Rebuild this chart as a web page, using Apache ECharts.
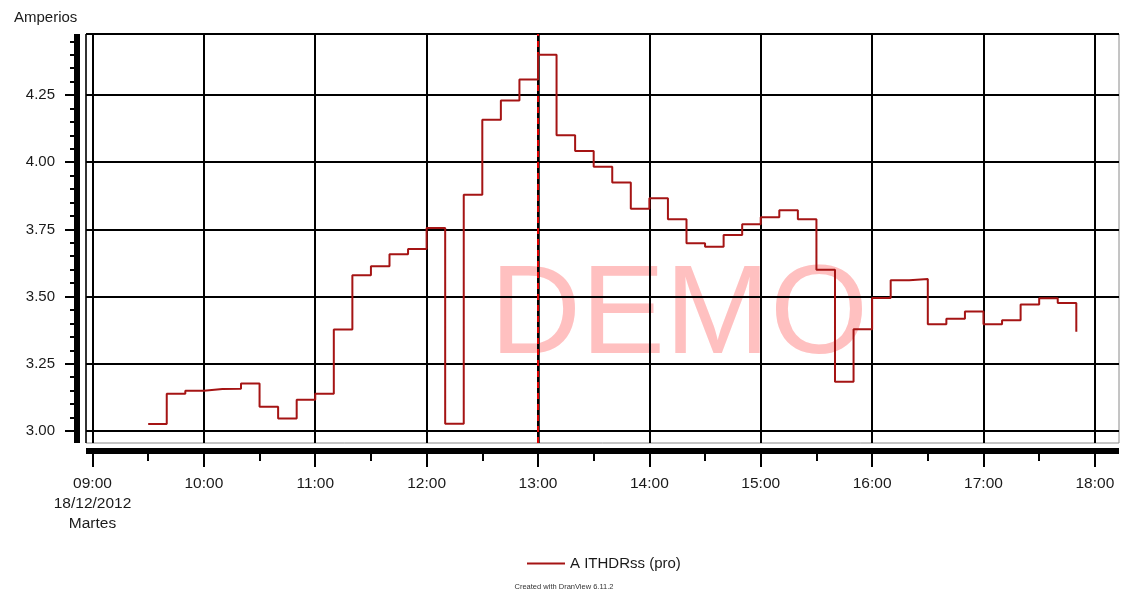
<!DOCTYPE html>
<html>
<head>
<meta charset="utf-8">
<title>A ITHDRss (pro)</title>
<script src="https://cdn.jsdelivr.net/npm/echarts@6/dist/echarts.min.js"></script>
<style>
  html, body { margin: 0; padding: 0; background: #ffffff; }
  #chart { width: 1128px; height: 593px; }
</style>
</head>
<body>
<div id="chart"></div>
<script>
// Sample times (10-minute steps) and measured current, in amperes
const times = [
  '09:30', '09:40', '09:50', '10:00', '10:10', '10:20', '10:30', '10:40', '10:50',
  '11:00', '11:10', '11:20', '11:30', '11:40', '11:50',
  '12:00', '12:10', '12:20', '12:30', '12:40', '12:50',
  '13:00', '13:10', '13:20', '13:30', '13:40', '13:50',
  '14:00', '14:10', '14:20', '14:30', '14:40', '14:50',
  '15:00', '15:10', '15:20', '15:30', '15:40', '15:50',
  '16:00', '16:10', '16:20', '16:30', '16:40', '16:50',
  '17:00', '17:10', '17:20', '17:30', '17:40', '17:50'
];
const amps = [
  3.026, 3.138, 3.149, 3.156, 3.157, 3.176, 3.090, 3.046, 3.116,
  3.138, 3.377, 3.579, 3.613, 3.657, 3.677,
  3.755, 3.027, 3.879, 4.158, 4.230, 4.308,
  4.400, 4.100, 4.042, 3.983, 3.924, 3.827,
  3.866, 3.788, 3.698, 3.685, 3.729, 3.769,
  3.795, 3.821, 3.788, 3.600, 3.183, 3.378,
  3.495, 3.561, 3.565, 3.397, 3.417, 3.444,
  3.397, 3.412, 3.470, 3.494, 3.476, 3.369
];

// Axis ticks
const hourTicks = ['09:00', '10:00', '11:00', '12:00', '13:00', '14:00', '15:00', '16:00', '17:00', '18:00'];
const halfHourTicks = ['09:30', '10:30', '11:30', '12:30', '13:30', '14:30', '15:30', '16:30', '17:30'];
const ampTicks = [3.00, 3.25, 3.50, 3.75, 4.00, 4.25];
const ampMinorTicks = [
  3.05, 3.10, 3.15, 3.20, 3.30, 3.35, 3.40, 3.45, 3.55, 3.60, 3.65, 3.70,
  3.80, 3.85, 3.90, 3.95, 4.05, 4.10, 4.15, 4.20, 4.30, 4.35, 4.40, 4.45
];
const cursorTime = '13:00';
const dateText = '18/12/2012';
const dayText = 'Martes';
const seriesName = 'A ITHDRss (pro)';

// Visible ranges
const timeMin = '08:56.5';
const timeMax = '18:13';
const ampMin = 2.955;
const ampMax = 4.477;

function toMinutes(t) {
  const [h, m] = t.split(':');
  return Number(h) * 60 + Number(m);
}
function fmtTime(v) {
  const h = Math.floor(v / 60);
  const m = Math.round(v - h * 60);
  return String(h).padStart(2, '0') + ':' + String(m).padStart(2, '0');
}

const FONT = 'Liberation Sans, Arial, sans-serif';
const INK = '#1a1a1a';
const xMin = toMinutes(timeMin);
const xMax = toMinutes(timeMax);
const firstHour = toMinutes(hourTicks[0]);

const chart = echarts.init(document.getElementById('chart'), null, { renderer: 'canvas' });

const option = {
  animation: false,
  backgroundColor: '#ffffff',
  title: [
    {
      text: 'Amperios', left: 9, top: 5,
      textStyle: { fontFamily: FONT, fontSize: 15, fontWeight: 'normal', color: INK }
    },
    {
      text: 'Created with DranView 6.11.2', left: 'center', top: 578,
      textStyle: { fontFamily: FONT, fontSize: 7.5, fontWeight: 'normal', color: '#333' }
    }
  ],
  legend: {
    left: 522, top: 551,
    itemWidth: 38, itemHeight: 14, itemGap: 10,
    icon: 'path://M0,0 L38,0 L38,2 L0,2 Z',
    textStyle: { fontFamily: FONT, fontSize: 15, color: INK },
    data: [seriesName]
  },
  grid: {
    left: 86, right: 9, top: 34, bottom: 150,
    show: true, borderColor: '#8a8a8a', borderWidth: 1,
    backgroundColor: 'transparent',
    outerBoundsMode: 'none'
  },
  graphic: [
    {
      type: 'text', z: -1, silent: true,
      x: 679, y: 318,
      style: {
        text: 'DEMO', fill: '#ffc0c0', fontFamily: FONT, fontSize: 126,
        textAlign: 'center', textVerticalAlign: 'middle'
      }
    }
  ],
  xAxis: [
    {
      // main time axis: hour ticks, labels and vertical grid
      type: 'value', min: xMin, max: xMax, position: 'bottom', offset: 8,
      axisLine: { show: true, onZero: false, lineStyle: { color: '#000', width: 6, cap: 'butt' } },
      axisTick: {
        show: true, customValues: hourTicks.map(toMinutes),
        length: 16, lineStyle: { color: '#000', width: 2 }
      },
      axisLabel: {
        customValues: hourTicks.map(toMinutes),
        margin: 23, fontFamily: FONT, fontSize: 15.5, color: INK, lineHeight: 20,
        formatter: v => (v === firstHour ? fmtTime(v) + '\n' + dateText + '\n' + dayText : fmtTime(v))
      },
      splitLine: { show: true, lineStyle: { color: '#000', width: 2 } }
    },
    {
      // half-hour ticks
      type: 'value', min: xMin, max: xMax, position: 'bottom', offset: 8,
      axisLine: { show: false },
      axisTick: {
        show: true, customValues: halfHourTicks.map(toMinutes),
        length: 10, lineStyle: { color: '#000', width: 2 }
      },
      axisLabel: { show: false },
      splitLine: { show: false }
    },
    {
      // top frame edge
      type: 'value', min: xMin, max: xMax, position: 'top', offset: 0,
      axisLine: { show: true, onZero: false, lineStyle: { color: '#000', width: 2, cap: 'butt' } },
      axisTick: { show: false }, axisLabel: { show: false }, splitLine: { show: false }
    }
  ],
  yAxis: [
    {
      // main value axis with labelled ticks and horizontal grid
      type: 'value', min: ampMin, max: ampMax, position: 'left', offset: 9,
      axisLine: { show: true, onZero: false, lineStyle: { color: '#000', width: 6, cap: 'butt' } },
      axisTick: {
        show: true, customValues: ampTicks,
        length: 12, lineStyle: { color: '#000', width: 2 }
      },
      axisLabel: {
        customValues: ampTicks, margin: 22,
        fontFamily: FONT, fontSize: 15, color: INK,
        formatter: v => v.toFixed(2)
      },
      splitLine: { show: true, lineStyle: { color: '#000', width: 2 } }
    },
    {
      // minor ticks every 0.05 A
      type: 'value', min: ampMin, max: ampMax, position: 'left', offset: 9,
      axisLine: { show: false },
      axisTick: {
        show: true, customValues: ampMinorTicks,
        length: 7, lineStyle: { color: '#000', width: 2 }
      },
      axisLabel: { show: false },
      splitLine: { show: false }
    },
    {
      // left frame edge
      type: 'value', min: ampMin, max: ampMax, position: 'left', offset: 0,
      axisLine: { show: true, onZero: false, lineStyle: { color: '#000', width: 1.5, cap: 'butt' } },
      axisTick: { show: false }, axisLabel: { show: false }, splitLine: { show: false }
    }
  ],
  series: [
    {
      name: seriesName,
      type: 'line',
      step: 'end',
      xAxisIndex: 0, yAxisIndex: 0,
      symbol: 'none',
      z: 5,
      lineStyle: { color: '#a51414', width: 2 },
      itemStyle: { color: '#a51414' },
      data: times.map((t, i) => [toMinutes(t), amps[i]]),
      markLine: {
        silent: true, symbol: 'none', animation: false,
        label: { show: false },
        data: [
          { xAxis: toMinutes(cursorTime), lineStyle: { color: '#000', width: 2.5, type: 'solid' } },
          { xAxis: toMinutes(cursorTime), lineStyle: { color: '#e00000', width: 2, type: [6, 5] } }
        ]
      }
    }
  ]
};

chart.setOption(option);
</script>
</body>
</html>
